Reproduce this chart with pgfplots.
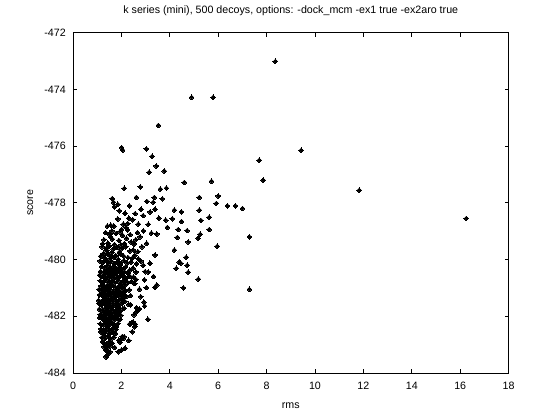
\documentclass[border=0pt]{standalone}
\usepackage{pgfplots}
\pgfplotsset{compat=1.18}
\usepackage{pgfplotstable}
\usepackage{fontspec}
\setmainfont{Liberation Sans}
\pgfplotstableread{
x y
8.36 -473.01
9.43 -476.15
7.70 -476.50
7.86 -477.20
11.83 -477.56
7.00 -478.20
7.29 -479.20
7.29 -481.05
16.25 -478.55
4.90 -474.28
5.79 -474.28
3.53 -475.27
2.01 -476.05
2.05 -476.14
3.03 -476.10
3.27 -476.36
3.44 -476.70
3.77 -476.88
3.15 -476.92
4.60 -477.28
5.72 -477.24
2.78 -477.44
2.12 -477.49
3.61 -477.52
3.86 -477.48
1.62 -477.85
2.62 -477.81
3.36 -477.81
3.69 -477.86
5.22 -477.81
6.00 -477.76
1.67 -477.98
3.32 -477.98
1.71 -478.14
2.33 -478.11
1.91 -478.28
2.15 -478.37
2.57 -478.38
2.81 -478.23
3.19 -478.32
3.39 -478.23
1.85 -478.57
2.31 -478.54
3.55 -478.54
3.83 -478.61
1.42 -478.82
1.56 -478.79
1.69 -478.82
2.08 -478.75
2.26 -478.73
2.19 -478.87
2.70 -478.75
3.11 -478.76
1.61 -478.99
1.94 -479.02
2.01 -478.94
2.91 -478.99
3.90 -478.87
3.46 -479.10
5.92 -478.02
6.38 -478.11
6.71 -478.11
4.19 -478.26
4.48 -478.32
5.22 -478.26
4.10 -478.56
4.48 -478.66
5.28 -478.62
5.63 -478.51
4.35 -478.94
4.72 -478.98
5.63 -478.94
4.31 -479.22
5.26 -479.11
5.17 -479.25
4.76 -479.38
5.96 -479.53
4.19 -479.67
4.68 -479.92
4.39 -480.09
4.45 -480.13
4.27 -480.31
4.72 -480.20
4.76 -480.45
5.18 -480.69
4.56 -481.00
3.46 -480.90
3.39 -480.98
3.03 -480.99
2.95 -480.72
3.33 -480.60
2.98 -480.43
2.60 -480.44
2.60 -480.70
2.93 -481.50
2.96 -481.64
3.09 -482.11
2.57 -482.28
2.55 -482.37
2.34 -482.28
2.62 -481.70
2.74 -481.74
2.12 -481.72
2.11 -482.72
1.90 -482.85
1.95 -482.92
2.00 -482.80
2.03 -482.72
1.43 -483.23
1.47 -483.31
1.36 -483.43
1.22 -482.90
1.59 -482.96
2.77 -479.20
3.04 -479.43
3.24 -479.07
3.18 -480.13
3.39 -479.84
2.49 -479.66
2.90 -480.20
3.11 -480.44
2.80 -481.31
2.63 -481.84
2.40 -482.25
2.48 -482.20
2.08 -482.78
2.15 -483.13
2.01 -483.19
1.87 -483.25
1.53 -483.25
1.39 -483.40
1.35 -479.05
1.52 -479.12
1.78 -479.08
2.05 -479.15
1.28 -479.30
1.63 -479.28
1.90 -479.33
2.21 -479.25
1.44 -479.42
1.71 -479.47
2.12 -479.44
2.40 -479.38
1.55 -479.20
1.98 -479.48
2.60 -479.30
1.22 -479.45
1.20 -479.55
1.38 -479.60
1.50 -479.52
1.66 -479.63
1.83 -479.58
2.02 -479.62
2.18 -479.55
2.35 -479.70
1.27 -479.78
1.45 -479.82
1.60 -479.75
1.77 -479.86
1.92 -479.74
2.09 -479.88
2.27 -479.93
1.33 -479.95
1.52 -479.97
1.70 -479.92
1.87 -479.99
2.55 -479.85
1.15 -479.88
2.70 -479.98
1.40 -479.68
1.97 -479.80
1.58 -479.88
1.12 -480.05
1.25 -480.10
1.37 -480.03
1.48 -480.12
1.59 -480.06
1.72 -480.15
1.84 -480.08
1.96 -480.14
2.10 -480.04
2.24 -480.12
2.40 -480.09
1.18 -480.25
1.30 -480.28
1.42 -480.22
1.55 -480.30
1.67 -480.24
1.79 -480.33
1.91 -480.27
2.04 -480.35
2.17 -480.26
2.33 -480.38
2.48 -480.30
1.14 -480.42
1.27 -480.46
1.39 -480.40
1.51 -480.48
1.63 -480.43
1.75 -480.49
1.88 -480.41
2.00 -480.47
2.13 -480.44
2.28 -480.49
1.45 -480.35
1.70 -480.38
1.95 -480.20
1.10 -480.55
1.21 -480.60
1.33 -480.53
1.44 -480.62
1.56 -480.57
1.68 -480.64
1.80 -480.56
1.92 -480.61
2.05 -480.58
2.19 -480.66
2.35 -480.59
1.13 -480.75
1.25 -480.79
1.37 -480.72
1.49 -480.80
1.61 -480.74
1.73 -480.82
1.85 -480.76
1.98 -480.83
2.11 -480.73
2.26 -480.81
2.42 -480.77
1.16 -480.93
1.29 -480.97
1.41 -480.91
1.53 -480.98
1.65 -480.92
1.77 -480.99
1.89 -480.94
2.02 -480.96
2.15 -480.90
1.31 -480.65
1.58 -480.87
1.85 -480.68
2.50 -480.62
1.22 -480.88
1.71 -480.52
1.96 -480.89
1.08 -481.05
1.19 -481.10
1.30 -481.03
1.42 -481.12
1.54 -481.06
1.66 -481.14
1.78 -481.08
1.90 -481.13
2.03 -481.04
2.17 -481.11
2.32 -481.07
1.10 -481.25
1.22 -481.28
1.34 -481.22
1.46 -481.30
1.58 -481.24
1.70 -481.31
1.82 -481.26
1.94 -481.29
2.07 -481.23
2.21 -481.30
2.38 -481.27
1.06 -481.44
1.17 -481.48
1.29 -481.41
1.41 -481.47
1.53 -481.43
1.65 -481.49
1.77 -481.42
1.89 -481.46
2.01 -481.40
2.14 -481.47
1.36 -481.37
1.60 -481.36
1.84 -481.17
2.10 -481.35
1.25 -481.16
1.72 -481.20
1.98 -481.18
1.49 -481.19
1.07 -481.55
1.18 -481.60
1.30 -481.53
1.42 -481.62
1.54 -481.56
1.66 -481.63
1.78 -481.57
1.90 -481.61
2.03 -481.54
2.30 -481.58
1.09 -481.75
1.21 -481.79
1.33 -481.72
1.45 -481.80
1.57 -481.74
1.69 -481.81
1.81 -481.76
1.93 -481.82
2.06 -481.73
1.12 -481.94
1.24 -481.97
1.36 -481.91
1.48 -481.98
1.60 -481.92
1.72 -481.99
1.84 -481.93
1.97 -481.96
1.38 -481.66
1.62 -481.68
1.87 -481.69
1.26 -481.86
1.51 -481.87
1.76 -481.88
1.10 -482.05
1.22 -482.10
1.34 -482.03
1.46 -482.12
1.58 -482.06
1.70 -482.13
1.82 -482.07
1.95 -482.11
1.13 -482.27
1.25 -482.30
1.37 -482.24
1.49 -482.31
1.61 -482.25
1.73 -482.32
1.86 -482.26
1.16 -482.45
1.28 -482.48
1.40 -482.42
1.52 -482.49
1.64 -482.43
1.77 -482.47
1.31 -482.17
1.55 -482.19
1.79 -482.38
1.43 -482.36
1.15 -482.55
1.27 -482.60
1.39 -482.53
1.51 -482.62
1.63 -482.57
1.76 -482.61
1.20 -482.75
1.32 -482.79
1.44 -482.72
1.56 -482.80
1.68 -482.74
1.25 -482.93
1.37 -482.97
1.49 -482.91
1.62 -482.95
1.30 -482.68
1.28 -483.08
1.40 -483.12
1.52 -483.05
1.35 -483.20
1.46 -483.02
1.72 -483.10
2.45 -479.95
2.62 -480.15
2.55 -480.85
2.75 -481.05
2.38 -481.60
2.52 -481.95
2.45 -482.55
2.30 -482.85
2.85 -479.55
2.66 -479.05
2.25 -478.95
2.47 -478.60
2.90 -478.45
3.05 -477.95
1.85 -478.05
2.52 -479.45
2.68 -479.72
2.36 -479.12
2.80 -480.05
}\decoys
\begin{document}
\begin{tikzpicture}
\fontsize{8}{9.6}\selectfont
\begin{axis}[
  scale only axis,
  width=326.7pt, height=255.2pt,
  xmin=0, xmax=18, ymin=-484, ymax=-472,
  xtick={0,2,...,18}, ytick={-484,-482,...,-472},
  tick align=inside, major tick length=3pt,
  axis line style={line width=0.6pt},
  every tick/.style={black, line width=0.6pt},
  /pgf/number format/assume math mode=true,
  tick label style={font=\fontsize{8}{9.6}\selectfont},
  xticklabel style={yshift=-4pt},
  yticklabel style={xshift=-2.6pt},
  title={k series (mini), 500 decoys, options: -dock\_mcm -ex1 true -ex2aro true},
  title style={at={(axis description cs:0.5,1)}, anchor=base, yshift=8.25pt, font=\fontsize{8}{9.6}\selectfont},
  xlabel={rms},
  xlabel style={at={(axis description cs:0.5,0)}, anchor=base, yshift=-27pt, font=\fontsize{8}{9.6}\selectfont},
  ylabel={score},
  ylabel style={at={(axis description cs:-0.0918,0.5)}, anchor=base, font=\fontsize{8}{9.6}\selectfont},
]
\addplot[only marks, mark=square*, mark size=1.25pt, mark options={rotate=45, fill=black, draw=black, line width=0pt}] table[x=x,y=y] {\decoys};
\end{axis}
\pgfresetboundingbox
\path ([shift={(-54.75pt,-35.3pt)}]current axis.south west) rectangle ([shift={(38.55pt,24.5pt)}]current axis.north east);
\end{tikzpicture}
\end{document}
